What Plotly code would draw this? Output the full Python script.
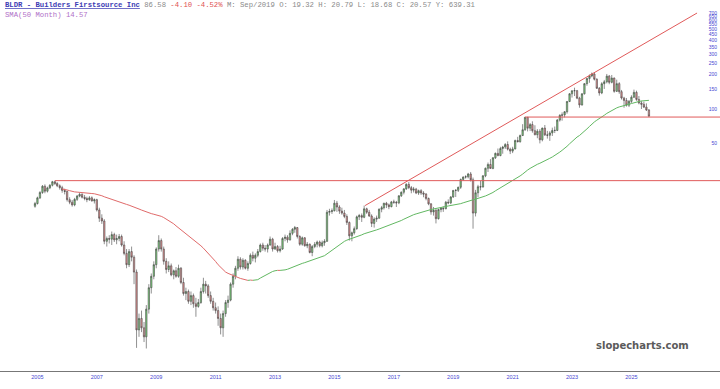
import pandas as pd
import plotly.graph_objects as go

# ---------------- data (monthly, Jun 2005 .. Feb 2026) ----------------
start_month = "2005-06-01"

opens = [
    14.0, 14.8, 16.6, 18.5, 21.0, 19.0, 20.3,
    21.4, 23.0, 22.2, 21.2, 20.4, 19.3, 18.9, 16.0, 15.2, 14.4, 16.1, 17.2,
    17.8, 16.8, 16.4, 16.0, 16.6, 15.6, 16.0, 13.0, 11.0, 10.4, 6.9, 7.3,
    7.2, 7.9, 7.1, 7.3, 7.6, 6.4, 5.4, 4.3, 5.6, 5.0, 3.7, 1.15,
    1.45, 1.2, 1.0, 1.75, 2.7, 3.4, 4.3, 5.9, 7.0, 5.9, 4.6, 3.9,
    4.2, 3.5, 3.8, 3.4, 4.0, 3.0, 2.4, 2.5, 2.05, 2.3, 1.95, 1.85,
    2.0, 2.5, 2.9, 2.8, 2.3, 2.05, 1.8, 1.7, 1.45, 1.2, 1.6, 2.0,
    2.1, 2.9, 3.4, 4.0, 4.8, 4.1, 4.7, 4.0, 4.4, 5.2, 4.9, 5.2,
    5.6, 6.4, 6.0, 5.9, 6.4, 7.2, 5.9, 6.2, 5.7, 5.9, 7.3, 7.5,
    7.1, 8.1, 8.8, 9.1, 7.6, 6.5, 7.4, 6.3, 6.5, 5.5, 6.2, 6.5,
    6.8, 6.3, 6.7, 6.9, 12.4, 12.6, 12.8, 14.9, 13.8, 12.7, 12.2, 11.4,
    10.1, 7.7, 8.2, 8.9, 11.3, 11.6, 11.2, 13.3, 12.4, 11.5, 9.9, 10.8,
    11.0, 13.2, 13.6, 14.9, 14.4, 13.9, 15.3, 15.2, 15.0, 17.3, 18.6, 19.9,
    21.8, 20.4, 19.4, 19.8, 18.3, 19.2, 18.3, 17.9, 16.4, 14.7, 12.5, 12.9,
    10.9, 13.1, 13.4, 13.3, 15.2, 15.0, 16.9, 19.3, 19.32, 20.57, 24.1, 25.3,
    25.4, 26.9, 23.9, 12.2, 18.4, 20.8, 20.7, 25.9, 30.2, 32.6, 30.1, 37.3,
    40.8, 39.0, 45.0, 46.4, 48.8, 44.4, 42.7, 44.6, 52.9, 51.7, 58.5, 65.8,
    84.6, 67.9, 73.0, 64.5, 59.5, 63.8, 53.7, 68.0, 59.3, 58.8, 61.7, 64.9,
    64.9, 80.0, 88.0, 88.8, 94.6, 116.5, 136.0, 144.6, 145.0, 124.5, 108.6, 136.0,
    167.0, 185.4, 195.2, 203.0, 182.6, 152.0, 138.4, 166.7, 173.3, 194.4, 171.5, 186.9,
    142.9, 167.0, 142.0, 124.9, 118.9, 108.0, 116.7, 127.0, 140.0, 121.3, 113.0, 110.0,
    104.0, 98.0,
]

highs = [
    15.3, 17.0, 19.0, 21.5, 21.8, 20.8, 21.9,
    23.4, 23.5, 22.8, 21.8, 21.2, 20.0, 19.2, 16.8, 15.9, 16.6, 17.6, 18.4,
    18.2, 17.6, 17.0, 17.2, 17.1, 16.4, 16.3, 13.6, 11.9, 10.8, 7.6, 7.8,
    8.4, 8.2, 7.9, 8.0, 7.9, 6.9, 5.9, 5.9, 6.2, 5.2, 3.9, 1.6,
    1.7, 1.35, 1.9, 2.9, 3.6, 4.6, 6.1, 7.8, 7.3, 6.2, 4.9, 4.6,
    4.4, 3.9, 4.1, 4.3, 4.1, 3.3, 2.7, 2.6, 2.5, 2.4, 2.2, 2.15,
    2.7, 3.3, 3.1, 2.9, 2.5, 2.2, 2.0, 1.85, 1.6, 1.7, 2.1, 2.3,
    3.0, 3.6, 4.2, 5.1, 5.0, 4.9, 4.8, 4.6, 5.4, 5.6, 5.4, 5.9,
    6.6, 6.7, 6.4, 6.6, 7.6, 7.4, 6.7, 6.4, 6.3, 7.5, 7.9, 7.8,
    8.6, 9.0, 9.4, 9.2, 7.8, 7.6, 7.5, 6.8, 6.6, 6.4, 6.8, 7.0,
    7.0, 7.0, 7.2, 13.0, 13.3, 13.4, 15.9, 15.6, 14.3, 13.6, 13.0, 11.9,
    10.3, 8.4, 9.3, 11.6, 12.0, 12.1, 14.2, 13.6, 13.0, 11.9, 11.2, 11.6,
    13.4, 14.1, 15.0, 15.3, 14.8, 15.6, 16.0, 15.6, 17.5, 18.9, 20.2, 22.3,
    22.9, 21.1, 20.7, 20.3, 19.6, 19.8, 19.0, 18.3, 16.7, 14.9, 13.8, 13.3,
    13.3, 13.8, 14.0, 15.6, 16.1, 17.2, 19.4, 19.8, 20.79, 24.5, 25.6, 26.2,
    27.5, 28.0, 25.0, 19.5, 21.6, 23.4, 26.3, 30.6, 33.9, 36.3, 37.9, 41.5,
    45.0, 46.6, 47.5, 50.2, 52.0, 45.8, 46.6, 53.9, 57.0, 59.7, 73.6, 85.0,
    85.0, 75.4, 78.0, 72.0, 66.6, 66.6, 68.6, 72.4, 64.3, 63.9, 68.6, 70.2,
    81.7, 90.0, 93.4, 96.0, 117.4, 138.0, 146.0, 153.9, 147.0, 128.0, 137.5, 169.0,
    188.0, 201.0, 209.0, 210.0, 186.0, 156.0, 172.0, 180.0, 203.1, 199.0, 199.0, 189.0,
    181.0, 172.0, 147.0, 128.0, 125.0, 120.0, 132.0, 148.0, 145.0, 130.0, 118.0, 116.0,
    112.0, 100.0,
]

lows = [
    13.6, 14.5, 16.2, 18.0, 18.2, 18.5, 19.8,
    20.9, 21.5, 20.6, 19.6, 18.4, 17.8, 15.4, 14.6, 13.9, 14.0, 15.6, 16.8,
    16.4, 15.8, 15.2, 15.6, 15.4, 14.8, 12.6, 10.2, 9.8, 6.5, 6.2, 6.6,
    6.4, 6.8, 6.5, 6.9, 6.2, 5.2, 4.0, 4.1, 4.6, 2.9, 0.80, 1.0,
    1.1, 0.9, 0.79, 1.6, 2.4, 3.2, 4.0, 5.6, 5.6, 4.3, 3.6, 3.7,
    3.4, 3.2, 3.3, 3.3, 2.9, 2.3, 2.1, 1.95, 1.9, 1.8, 1.5, 1.8,
    1.95, 2.4, 2.4, 2.2, 1.95, 1.7, 1.6, 1.25, 1.05, 1.0, 1.5, 1.8,
    2.05, 2.7, 3.2, 3.8, 3.9, 3.9, 3.9, 3.8, 4.3, 4.6, 4.5, 5.0,
    5.5, 5.7, 5.6, 5.5, 6.3, 5.6, 5.8, 5.5, 5.5, 5.8, 6.9, 6.7,
    7.0, 7.8, 8.2, 7.3, 6.3, 6.3, 6.2, 6.0, 5.4, 5.1, 6.0, 6.1,
    6.1, 6.1, 6.3, 6.8, 11.6, 12.0, 12.6, 12.5, 12.0, 11.8, 11.0, 9.6,
    7.0, 6.9, 7.9, 8.7, 10.6, 10.2, 11.0, 12.0, 11.3, 9.2, 9.1, 10.2,
    10.9, 12.4, 13.1, 13.5, 13.2, 13.7, 14.7, 13.8, 14.6, 16.9, 17.8, 19.5,
    19.8, 18.2, 18.5, 17.9, 17.6, 17.6, 16.8, 15.8, 14.3, 11.8, 11.6, 9.9,
    10.7, 12.4, 12.5, 13.2, 14.6, 14.6, 16.6, 16.9, 18.68, 19.9, 23.5, 24.5,
    24.6, 23.1, 8.9, 11.4, 16.8, 19.3, 20.4, 25.2, 28.0, 29.9, 29.6, 36.4,
    38.5, 38.5, 40.5, 44.6, 43.2, 40.2, 41.0, 44.2, 50.8, 50.6, 57.9, 64.3,
    63.6, 64.0, 62.0, 58.7, 55.4, 49.9, 52.0, 58.0, 55.0, 52.5, 58.0, 61.5,
    64.0, 77.6, 79.0, 84.5, 91.0, 115.0, 126.0, 130.0, 122.0, 102.6, 107.0, 134.0,
    160.0, 170.0, 190.0, 178.0, 150.0, 131.0, 135.0, 150.0, 168.0, 165.0, 168.0, 139.0,
    141.0, 136.0, 121.0, 102.6, 105.0, 104.0, 113.0, 125.0, 118.0, 110.0, 100.0, 102.0,
    96.0, 85.5,
]

closes = [
    14.8, 16.6, 18.5, 21.0, 19.0, 20.3, 21.4,
    23.0, 22.2, 21.2, 20.4, 19.3, 18.9, 16.0, 15.2, 14.4, 16.1, 17.2, 17.8,
    16.8, 16.4, 16.0, 16.6, 15.6, 16.0, 13.0, 11.0, 10.4, 6.9, 7.3, 7.2,
    7.9, 7.1, 7.3, 7.6, 6.4, 5.4, 4.3, 5.6, 5.0, 3.7, 1.15, 1.45,
    1.2, 1.0, 1.75, 2.7, 3.4, 4.3, 5.9, 7.0, 5.9, 4.6, 3.9, 4.2,
    3.5, 3.8, 3.4, 4.0, 3.0, 2.4, 2.5, 2.05, 2.3, 1.95, 1.85, 2.0,
    2.5, 2.9, 2.8, 2.3, 2.05, 1.8, 1.7, 1.45, 1.2, 1.6, 2.0, 2.1,
    2.9, 3.4, 4.0, 4.8, 4.1, 4.7, 4.0, 4.4, 5.2, 4.9, 5.2, 5.6,
    6.4, 6.0, 5.9, 6.4, 7.2, 5.9, 6.2, 5.7, 5.9, 7.3, 7.5, 7.1,
    8.1, 8.8, 9.1, 7.6, 6.5, 7.4, 6.3, 6.5, 5.5, 6.2, 6.5, 6.8,
    6.3, 6.7, 6.9, 12.4, 12.6, 12.8, 14.9, 13.8, 12.7, 12.2, 11.4, 10.1,
    7.7, 8.2, 8.9, 11.3, 11.6, 11.2, 13.3, 12.4, 11.5, 9.9, 10.8, 11.0,
    13.2, 13.6, 14.9, 14.4, 13.9, 15.3, 15.2, 15.0, 17.3, 18.6, 19.9, 21.8,
    20.4, 19.4, 19.8, 18.3, 19.2, 18.3, 17.9, 16.4, 14.7, 12.5, 12.9, 10.9,
    13.1, 13.4, 13.3, 15.2, 15.0, 16.9, 19.3, 19.32, 20.57, 24.1, 25.3, 25.4,
    26.9, 23.9, 12.2, 18.4, 20.8, 20.7, 25.9, 30.2, 32.6, 30.1, 37.3, 40.8,
    39.0, 45.0, 46.4, 48.8, 44.4, 42.7, 44.6, 52.9, 51.7, 58.5, 65.8, 84.6,
    67.9, 73.0, 64.5, 59.5, 63.8, 53.7, 68.0, 59.3, 58.8, 61.7, 64.9, 64.9,
    80.0, 88.0, 88.8, 94.6, 116.5, 136.0, 144.6, 145.0, 124.5, 108.6, 136.0, 167.0,
    185.4, 195.2, 203.0, 182.6, 152.0, 138.4, 166.7, 173.3, 194.4, 171.5, 186.9, 142.9,
    167.0, 142.0, 124.9, 118.9, 108.0, 116.7, 127.0, 140.0, 121.3, 113.0, 110.0, 104.0,
    98.0, 86.58,
]

sma_window = 50

# drawn support/resistance lines: (date, price) endpoints
hline_2006 = ("2006-02-01", 23.5)
hline_2021 = ("2021-12-01", 85.0)
trend_start = ("2016-07-12", 14.2)
trend_end = ("2027-09-16", 696.0)

year_labels = ["2005", "2007", "2009", "2011", "2013", "2015", "2017", "2019", "2021", "2023", "2025"]
price_ticks = [50, 100, 150, 200, 250, 300, 350, 400, 450, 500, 550, 600, 650, 700]

# ---------------- build ----------------
dates = pd.date_range(start_month, periods=len(closes), freq="MS")

# x range so that the first bar sits 35 px from the left at 29.7 px per year
anchor = pd.Timestamp(start_month)
px_per_day = 29.7 / 365.25
x_start = anchor - pd.Timedelta(days=35 / px_per_day)
x_end = anchor + pd.Timedelta(days=685 / px_per_day)

fig = go.Figure()

fig.add_trace(go.Candlestick(
    x=dates, open=opens, high=highs, low=lows, close=closes,
    increasing=dict(fillcolor="#7fd67f", line=dict(color="#444444", width=0.6)),
    decreasing=dict(fillcolor="#e79494", line=dict(color="#444444", width=0.6)),
    whiskerwidth=0, showlegend=False, hoverinfo="skip",
))

# SMA, coloured red when falling and green when rising
sma = pd.Series(closes).rolling(sma_window, min_periods=12).mean()
seg_x, seg_y, seg_col = [], [], None
segments = []
for i in range(1, len(sma)):
    if pd.isna(sma[i - 1]):
        continue
    col = "#e06a6a" if sma[i] < sma[i - 1] else "#62b862"
    if col != seg_col:
        if seg_x:
            segments.append((seg_x, seg_y, seg_col))
        seg_x, seg_y, seg_col = [dates[i - 1]], [sma[i - 1]], col
    seg_x.append(dates[i])
    seg_y.append(sma[i])
if seg_x:
    segments.append((seg_x, seg_y, seg_col))
for sx, sy, sc in segments:
    fig.add_trace(go.Scatter(x=sx, y=sy, mode="lines", line=dict(color=sc, width=1),
                             showlegend=False, hoverinfo="skip"))

line_red = "#e05a5a"
for (d0, p0) in (hline_2006, hline_2021):
    fig.add_trace(go.Scatter(x=[d0, x_end], y=[p0, p0], mode="lines",
                             line=dict(color=line_red, width=1), showlegend=False, hoverinfo="skip"))
fig.add_trace(go.Scatter(x=[trend_start[0], trend_end[0]], y=[trend_start[1], trend_end[1]],
                         mode="lines", line=dict(color=line_red, width=1),
                         showlegend=False, hoverinfo="skip"))

H = 389
B = 18
plot_h = H - B


def py(pix):
    return 1 - pix / plot_h


title = ('<b><u>BLDR - Builders Firstsource Inc</u></b> '
         '<span style="color:#8a8a8a">86.58</span> '
         '<span style="color:#e05050">-4.10 -4.52%</span> '
         '<span style="color:#8a8a8a">M: Sep/2019 O: 19.32 H: 20.79 L: 18.68 C: 20.57 Y: 639.31</span>')

fig.add_annotation(x=3 / 720, y=py(5.5), xref="paper", yref="paper", xanchor="left", yanchor="middle",
                   text=title, showarrow=False,
                   font=dict(family="Liberation Mono", size=7.25, color="#3c3cb4"))
fig.add_annotation(x=3 / 720, y=py(14.7), xref="paper", yref="paper", xanchor="left", yanchor="middle",
                   text="SMA(50 Month) 14.57", showarrow=False,
                   font=dict(family="Liberation Mono", size=7.25, color="#b070c8"))
fig.add_annotation(x=642 / 720, y=py(345), xref="paper", yref="paper", xanchor="center", yanchor="middle",
                   text="<b>slopecharts.com</b>", showarrow=False,
                   font=dict(family="DejaVu Sans", size=10, color="#5a5a5a"))

fig.update_layout(
    width=720, height=H,
    margin=dict(l=0, r=0, t=0, b=B),
    paper_bgcolor="white", plot_bgcolor="white",
    showlegend=False,
    boxgap=0.15,
    xaxis=dict(
        type="date", range=[x_start, x_end], rangeslider=dict(visible=False),
        tickvals=[f"{y}-07-01" for y in year_labels], ticktext=year_labels,
        tickfont=dict(family="Liberation Sans", size=5.5, color="#4646d2"),
        showgrid=False, zeroline=False, showline=True, linecolor="#777777", linewidth=1,
        ticks="", fixedrange=True,
    ),
    yaxis=dict(
        type="log", range=[-0.300, 2.957], side="right", ticklabelposition="inside",
        tickvals=price_ticks, ticktext=[str(v) for v in price_ticks],
        tickfont=dict(family="Liberation Sans", size=5, color="#4646d2"),
        showgrid=False, zeroline=False, showline=False, ticks="", fixedrange=True,
    ),
)

fig.write_html("out.html", config={"displayModeBar": False, "staticPlot": True},
               post_script="document.body.style.margin='0';document.body.style.overflow='hidden';")
